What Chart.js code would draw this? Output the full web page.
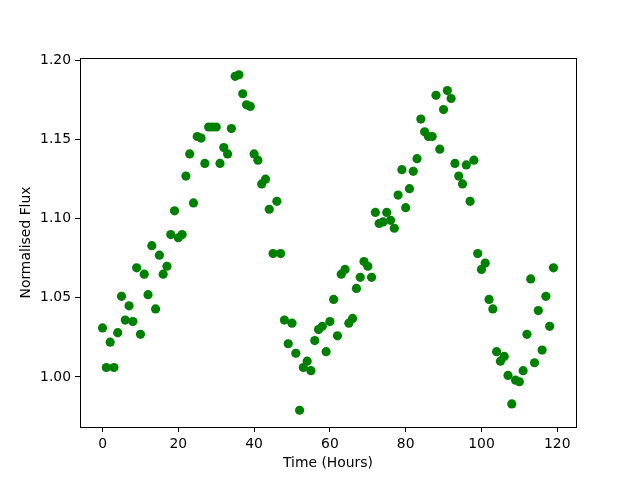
<!DOCTYPE html>
<html>
<head>
<meta charset="utf-8">
<script src="https://cdn.jsdelivr.net/npm/chart.js@4"></script>
<style>
  html, body { margin: 0; padding: 0; background: #fff; }
  #wrap { width: 640px; height: 480px; }
</style>
</head>
<body>
<div id="wrap"><canvas id="myChart" width="640" height="480"></canvas></div>
<script>
// time in hours
var hours = [];
for (var i = 0; i < 120; i++) hours.push(i);

var flux = [
  1.031, 1.006, 1.022, 1.006, 1.028, 1.051, 1.036, 1.045, 1.035, 1.069,
  1.027, 1.065, 1.052, 1.083, 1.043, 1.077, 1.065, 1.070, 1.090, 1.105,
  1.088, 1.090, 1.127, 1.141, 1.110, 1.152, 1.151, 1.135, 1.158, 1.158,
  1.158, 1.135, 1.145, 1.141, 1.157, 1.190, 1.191, 1.179, 1.172, 1.171,
  1.141, 1.137, 1.122, 1.125, 1.106, 1.078, 1.111, 1.078, 1.036, 1.021,
  1.034, 1.015, 0.979, 1.006, 1.010, 1.004, 1.023, 1.030, 1.032, 1.016,
  1.035, 1.049, 1.026, 1.065, 1.068, 1.034, 1.037, 1.056, 1.063, 1.073,
  1.070, 1.063, 1.104, 1.097, 1.098, 1.104, 1.099, 1.094, 1.115, 1.131,
  1.107, 1.119, 1.130, 1.138, 1.163, 1.155, 1.152, 1.152, 1.178, 1.144,
  1.169, 1.181, 1.176, 1.135, 1.127, 1.122, 1.134, 1.111, 1.137, 1.078,
  1.068, 1.072, 1.049, 1.043, 1.016, 1.010, 1.013, 1.001, 0.983, 0.998,
  0.997, 1.004, 1.027, 1.062, 1.009, 1.042, 1.017, 1.051, 1.032, 1.069
];

var xTicks = [0, 20, 40, 60, 80, 100, 120];
var yTicks = [1.00, 1.05, 1.10, 1.15, 1.20];

var pts = hours.map(function (h, i) { return {x: h, y: flux[i]}; });

// matplotlib style 5% margins
var xMin = Math.min.apply(null, hours), xMax = Math.max.apply(null, hours);
var yMin = Math.min.apply(null, flux), yMax = Math.max.apply(null, flux);
var xPad = (xMax - xMin) * 0.05, yPad = (yMax - yMin) * 0.05;

Chart.defaults.font.family = "'DejaVu Sans', sans-serif";
Chart.defaults.color = '#000';

var frame = {
  id: 'frame',
  afterDraw: function (chart) {
    var a = chart.chartArea, ctx = chart.ctx;
    ctx.save();
    ctx.strokeStyle = '#000';
    ctx.lineWidth = 1;
    ctx.strokeRect(Math.round(a.left) + 0.5, Math.round(a.top) + 0.5,
      Math.round(a.right - a.left), Math.round(a.bottom - a.top));
    ctx.restore();
  }
};

new Chart(document.getElementById("myChart"), {
  type: "scatter",
  data: {
    datasets: [{
      data: pts,
      backgroundColor: "#008000",
      borderColor: "#008000",
      pointRadius: 4.6,
      pointHoverRadius: 4.6,
      borderWidth: 0
    }]
  },
  options: {
    responsive: false,
    animation: false,
    events: [],
    layout: { padding: { top: 58, right: 64, left: 0, bottom: 0 } },
    plugins: { legend: { display: false }, tooltip: { enabled: false } },
    scales: {
      x: {
        type: 'linear',
        min: xMin - xPad,
        max: xMax + xPad,
        afterBuildTicks: function (s) { s.ticks = xTicks.map(function (v) { return {value: v}; }); },
        afterFit: function (s) { s.height = 53; },
        grid: { display: true, drawOnChartArea: false, drawTicks: true, tickLength: 5, color: '#000' },
        border: { display: false },
        ticks: { padding: 4, font: { size: 13.9 }, maxRotation: 0, callback: function (v) { return v; } },
        title: { display: true, text: 'Time (Hours)', font: { size: 13.9 }, padding: { top: 0, bottom: 8.6 } }
      },
      y: {
        type: 'linear',
        min: yMin - yPad,
        max: yMax + yPad,
        afterBuildTicks: function (s) { s.ticks = yTicks.map(function (v) { return {value: v}; }); },
        afterFit: function (s) { s.width = 80; },
        grid: { display: true, drawOnChartArea: false, drawTicks: true, tickLength: 5, color: '#000' },
        border: { display: false },
        ticks: { padding: 4, font: { size: 13.9 }, callback: function (v) { return v.toFixed(2); } },
        title: { display: true, text: 'Normalised Flux', font: { size: 13.9 }, padding: { top: 17.6, bottom: 0 } }
      }
    }
  },
  plugins: [frame]
});
</script>
</body>
</html>
